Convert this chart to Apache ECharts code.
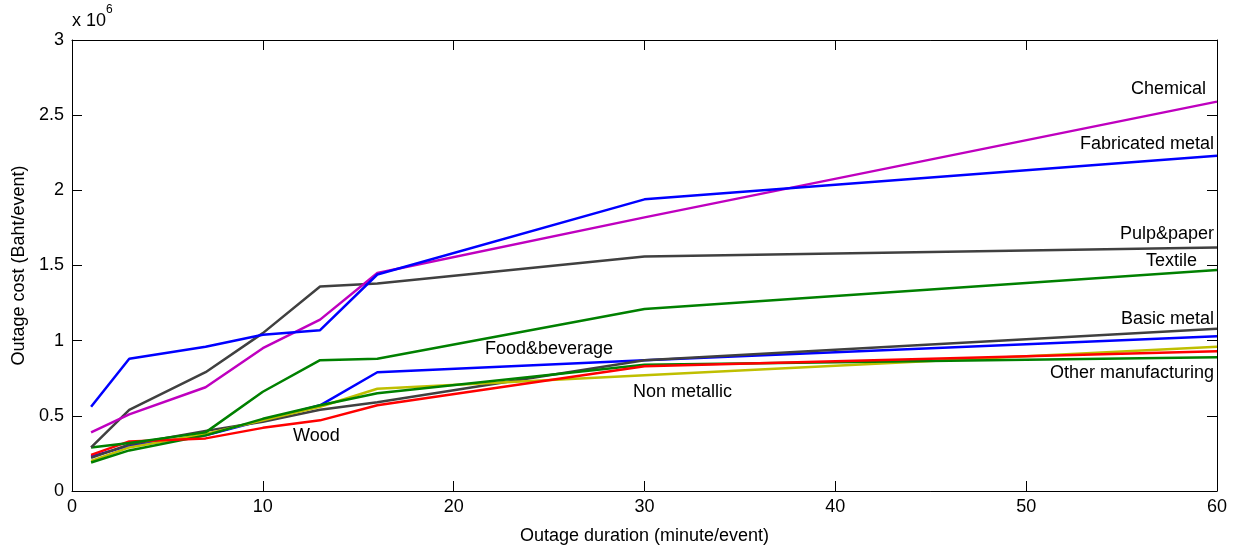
<!DOCTYPE html>
<html>
<head>
<meta charset="utf-8">
<script src="https://cdn.jsdelivr.net/npm/echarts@6/dist/echarts.min.js"></script>
<style>
  html, body { margin: 0; padding: 0; background: #fff; }
  #main { width: 1234px; height: 547px; }
</style>
</head>
<body>
<div id="main"></div>
<script>
// outage duration (minute/event)
var durations = [1, 3, 7, 10, 13, 16, 30, 60];

// outage cost, x 10^6 Baht/event
var foodBeverage   = [0.23, 0.30, 0.37, 0.47, 0.57, 0.79, 0.87, 1.03];
var basicMetal     = [0.22, 0.31, 0.40, 0.46, 0.54, 0.59, 0.87, 1.08];
var otherManuf     = [0.19, 0.27, 0.37, 0.48, 0.57, 0.65, 0.84, 0.89];
var nonMetallic    = [0.20, 0.29, 0.38, 0.47, 0.56, 0.68, 0.77, 0.96];
var wood           = [0.24, 0.33, 0.35, 0.42, 0.47, 0.57, 0.83, 0.93];
var textile        = [0.29, 0.32, 0.39, 0.66, 0.87, 0.88, 1.21, 1.47];
var pulpPaper      = [0.29, 0.54, 0.79, 1.05, 1.36, 1.38, 1.56, 1.62];
var chemical       = [0.39, 0.51, 0.69, 0.95, 1.14, 1.45, 1.82, 2.59];
var fabricatedMetal= [0.56, 0.88, 0.96, 1.04, 1.07, 1.44, 1.94, 2.23];

var yTicks = [0, 0.5, 1, 1.5, 2, 2.5, 3];

var myChart = echarts.init(document.getElementById('main'));

function pairs(vals) {
    var out = [];
    for (var i = 0; i < durations.length; i++) {
        out.push([durations[i], vals[i]]);
    }
    return out;
}

function line(name, vals, color) {
    return {
        name: name,
        type: 'line',
        data: pairs(vals),
        symbol: 'none',
        lineStyle: { color: color, width: 2.5 },
        itemStyle: { color: color },
        animation: false
    };
}

var font = 'Liberation Sans, Arial, sans-serif';
var fs = 18;
var tickStyle = { inside: true, length: 10, lineStyle: { color: '#000', width: 1 } };
var axisLineStyle = { show: true, onZero: false, lineStyle: { color: '#000', width: 1 } };

function note(pos, text) {
    pos.type = 'text';
    pos.style = { text: text, font: fs + 'px ' + font, fill: '#000' };
    return pos;
}

var option = {
    backgroundColor: '#fff',
    grid: { left: 72, right: 17, top: 40, bottom: 56, outerBoundsMode: 'none', containLabel: false },
    xAxis: [{
        type: 'value', min: 0, max: 60, interval: 10,
        name: 'Outage duration (minute/event)',
        nameLocation: 'middle', nameGap: 36,
        nameTextStyle: { fontFamily: font, fontSize: fs, color: '#000' },
        axisLine: axisLineStyle,
        axisTick: tickStyle,
        axisLabel: { fontFamily: font, fontSize: fs, color: '#000', margin: 7 },
        splitLine: { show: false }
    }, {
        type: 'value', min: 0, max: 60, interval: 10, position: 'top',
        axisLine: axisLineStyle,
        axisTick: tickStyle,
        axisLabel: { show: false },
        splitLine: { show: false }
    }],
    yAxis: [{
        type: 'value', min: 0, max: 3, interval: 0.5,
        name: 'Outage cost (Baht/event)',
        nameLocation: 'middle', nameGap: 44,
        nameTextStyle: { fontFamily: font, fontSize: fs, color: '#000' },
        axisLine: axisLineStyle,
        axisTick: tickStyle,
        axisLabel: {
            fontFamily: font, fontSize: fs, color: '#000', margin: 8,
            formatter: function (v) {
                return yTicks.indexOf(v) >= 0 ? String(v) : '';
            }
        },
        splitLine: { show: false }
    }, {
        type: 'value', min: 0, max: 3, interval: 0.5, position: 'right',
        axisLine: axisLineStyle,
        axisTick: tickStyle,
        axisLabel: { show: false },
        splitLine: { show: false }
    }],
    series: [
        line('Food&beverage', foodBeverage, '#0000ff'),
        line('Basic metal', basicMetal, '#404040'),
        line('Non metallic', nonMetallic, '#bfbf00'),
        line('Other manufacturing', otherManuf, '#008000'),
        line('Wood', wood, '#ff0000'),
        line('Textile', textile, '#008000'),
        line('Pulp&paper', pulpPaper, '#404040'),
        line('Chemical', chemical, '#bf00bf'),
        line('Fabricated metal', fabricatedMetal, '#0000ff')
    ],
    graphic: [
        { type: 'text', left: 72, top: 4, style: {
            text: '{b|x 10}{s|6}', fill: '#000',
            rich: { b: { fontSize: fs, fontFamily: font, padding: [8, 0, 0, 0] }, s: { fontSize: 12, fontFamily: font, verticalAlign: 'top' } }
        } },
        note({ right: 28, top: 80 }, 'Chemical'),
        note({ right: 20, top: 135 }, 'Fabricated metal'),
        note({ right: 20, top: 225 }, 'Pulp&paper'),
        note({ right: 37, top: 252 }, 'Textile'),
        note({ right: 20, top: 310 }, 'Basic metal'),
        note({ left: 485, top: 340 }, 'Food&beverage'),
        note({ left: 633, top: 383 }, 'Non metallic'),
        note({ left: 293, top: 427 }, 'Wood'),
        note({ right: 20, top: 364 }, 'Other manufacturing')
    ]
};

myChart.setOption(option);
</script>
</body>
</html>
